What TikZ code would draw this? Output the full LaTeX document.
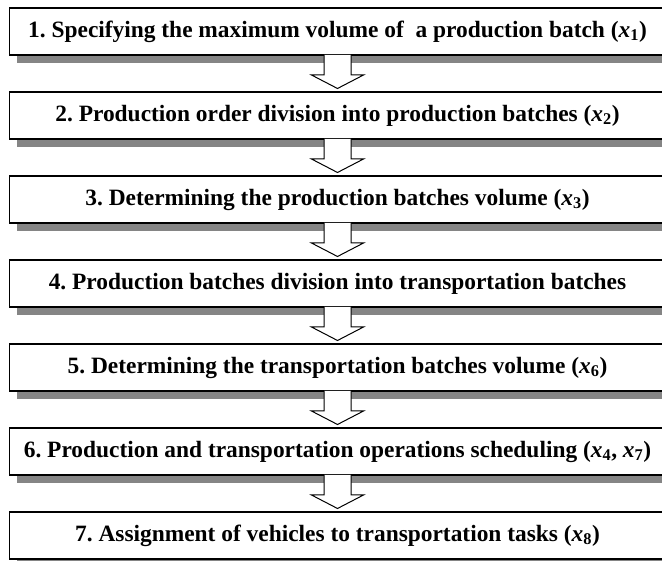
\documentclass[tikz,border=0pt]{standalone}
\usepackage{fontspec}
\setmainfont{Liberation Serif}
\usetikzlibrary{positioning,calc,shadows}
\newcommand{\xvar}[1]{\textit{x}\textsubscript{#1}}
\frenchspacing

\begin{document}
\begin{tikzpicture}[
    x=1pt,y=1pt,
    stage/.style={
      draw,
      line width=1.4pt,
      minimum width=656pt,
      minimum height=47pt,
      inner sep=0pt,
      outer sep=0pt,
      fill=white,
      font=\bfseries\fontsize{23.4}{26}\selectfont,
      drop shadow={shadow xshift=7.5pt,shadow yshift=-8.5pt,fill=black!48,opacity=1},
      align=center
    },
    hollow/.style={
      draw,
      line width=1pt,
      fill=white
    }
  ]
  \useasboundingbox (0,0) rectangle (662,-561);

  \node[stage,anchor=north west] (s1) at (9.5,-8) {1. Specifying the maximum volume of~ a production batch (\xvar{1})};
  \node[stage,below=37pt of s1] (s2) {2. Production order division into production batches (\xvar{2})};
  \node[stage,below=37pt of s2] (s3) {3. Determining the production batches volume (\xvar{3})};
  \node[stage,below=37pt of s3] (s4) {4. Production batches division into transportation batches};
  \node[stage,below=37pt of s4] (s5) {5. Determining the transportation batches volume (\xvar{6})};
  \node[stage,below=37pt of s5] (s6) {6. Production and transportation operations scheduling (\xvar{4}, \xvar{7})};
  \node[stage,below=37pt of s6] (s7) {7. Assignment of vehicles to transportation tasks (\xvar{8})};

  % hollow arrows between the stages
  \foreach \a/\b in {s1/s2,s2/s3,s3/s4,s4/s5,s5/s6,s6/s7} {
    \draw[hollow] ($(\a.south)+(-13.5,0)$) -- ++(0,-20) -- ++(-12.5,0)
      -- ($(\b.north)+(0,3.5)$) -- ($(\a.south)+(26,-20)$) -- ++(-12.5,0) -- ++(0,20);
  }

\end{tikzpicture}
\end{document}
